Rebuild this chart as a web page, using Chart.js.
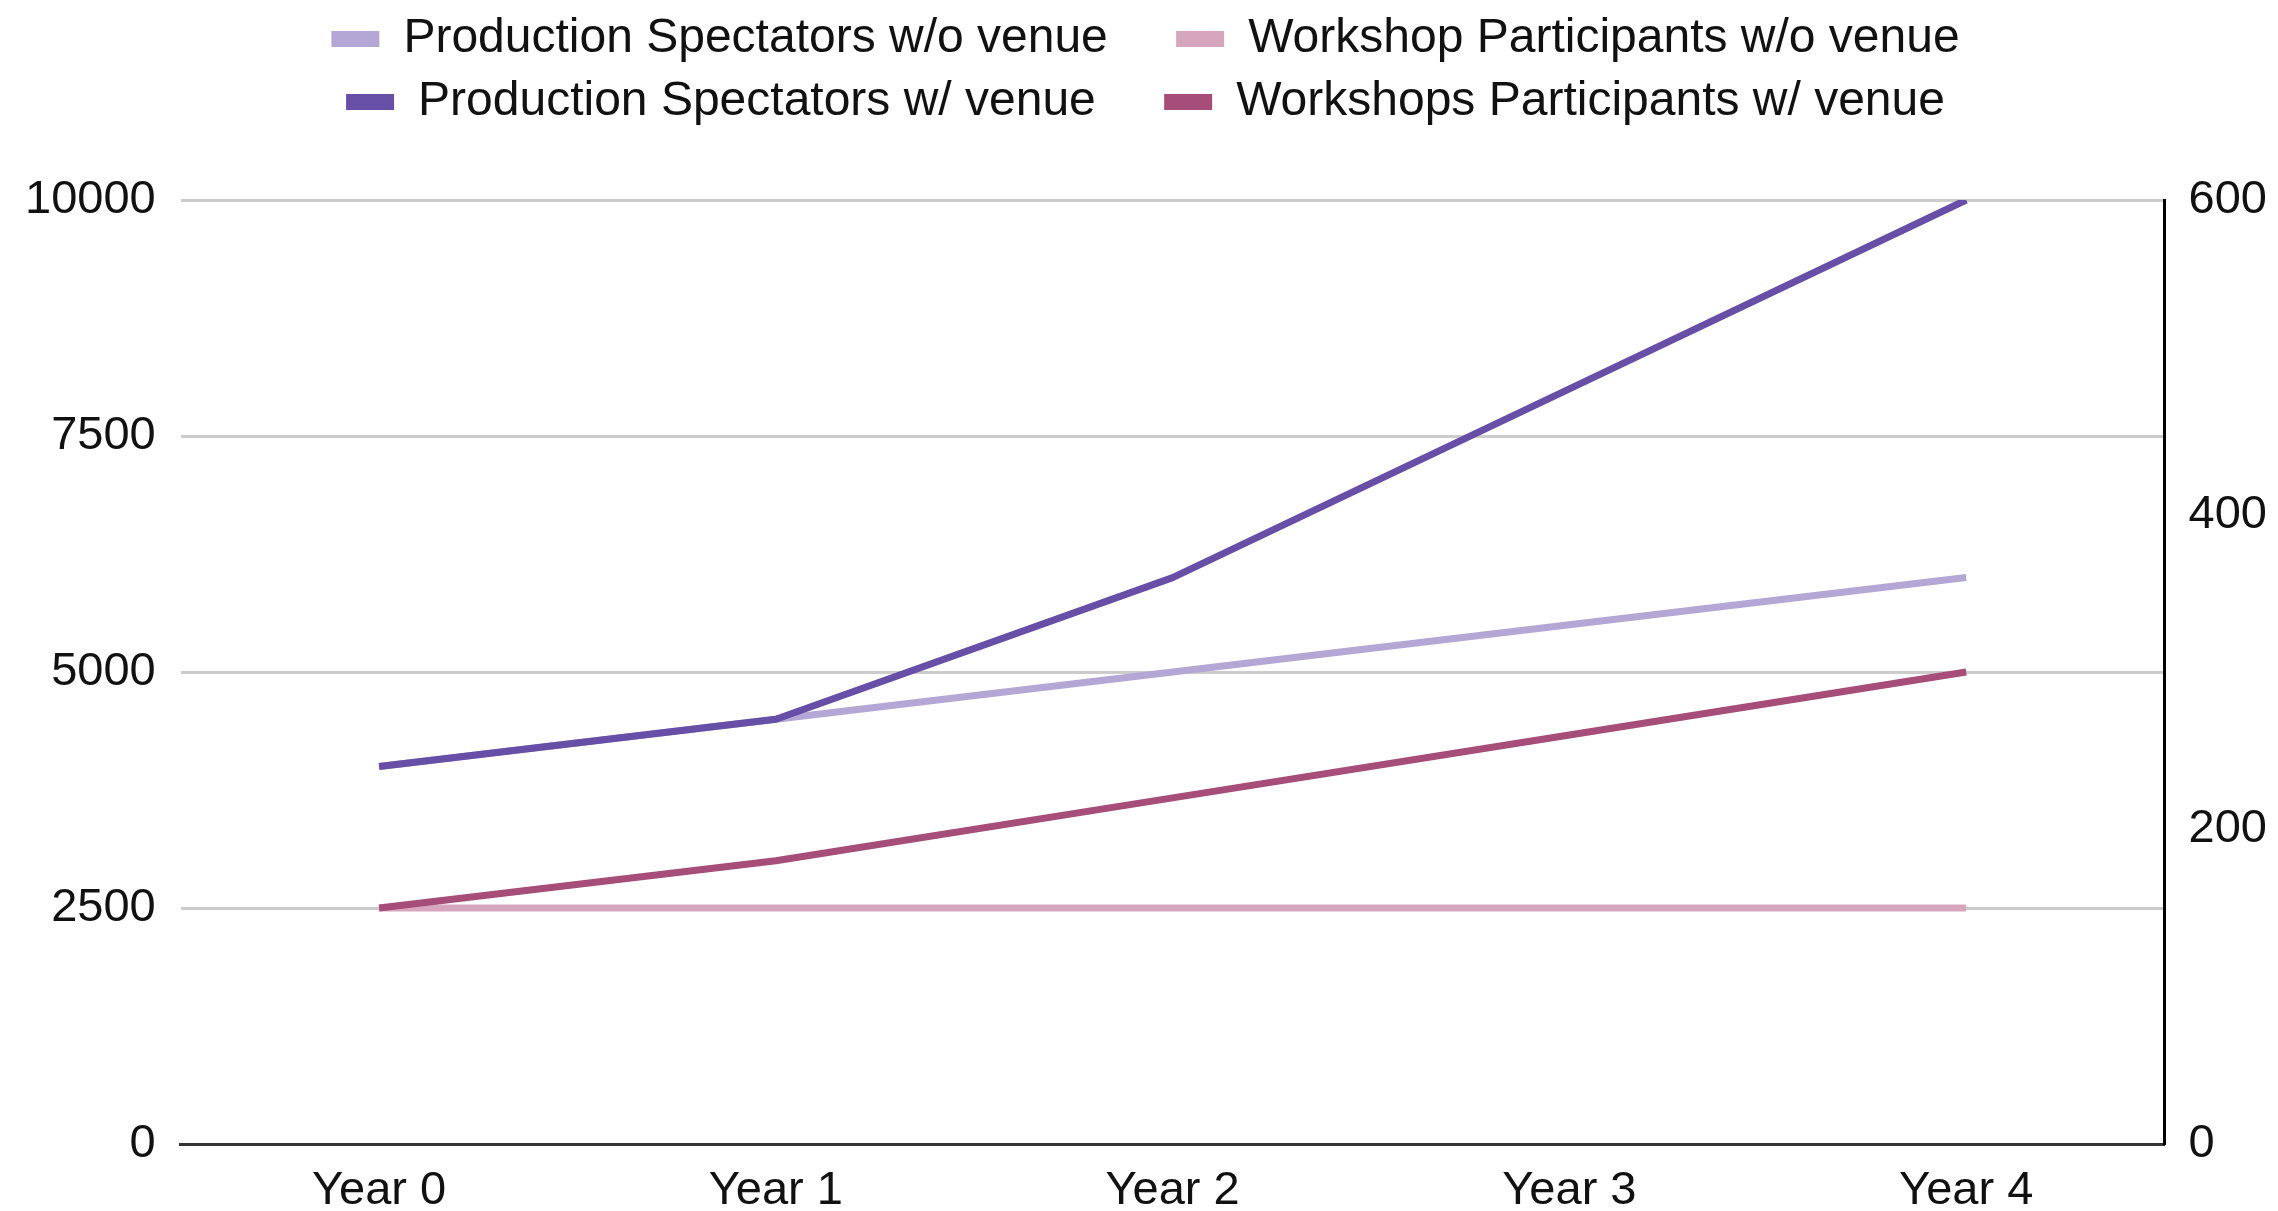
<!DOCTYPE html>
<html>
<head>
<meta charset="utf-8">
<title>Spectators and Participants</title>
<script src="https://cdn.jsdelivr.net/npm/chart.js@4"></script>
<style>
    html, body { margin: 0; padding: 0; background: #fff; }
    #wrap { width: 2278px; height: 1211px; position: relative; }
</style>
</head>
<body>
<div id="wrap"><canvas id="audienceChart"></canvas></div>
<script>
// Chart data
const years = ["Year 0", "Year 1", "Year 2", "Year 3", "Year 4"];
const spectatorsNoVenue = [4000, 4500, 5000, 5500, 6000];
const workshopNoVenue = [150, 150, 150, 150, 150];
const spectatorsVenue = [4000, 4500, 6000, 8000, 10000];
const workshopVenue = [150, 180, 220, 260, 300];
const leftTicks = [0, 2500, 5000, 7500, 10000];
const rightTicks = [0, 200, 400, 600];

const FONT = "'Liberation Sans', Arial, sans-serif";

document.addEventListener("DOMContentLoaded", function () {
    initAudienceChart();
});

function makeLine(label, data, color, axis, order) {
    return {
        label: label,
        data: data,
        yAxisID: axis,
        borderColor: color,
        backgroundColor: color,
        borderWidth: 7,
        borderJoinStyle: "round",
        pointRadius: 0,
        pointHoverRadius: 0,
        tension: 0,
        fill: false,
        order: order,
    };
}

// Extra room between legend and plot area
const legendGap = {
    id: "legendGap",
    beforeInit(chart) {
        const origFit = chart.legend.fit;
        chart.legend.fit = function () {
            origFit.bind(chart.legend)();
            this.height += 64;
        };
    },
};

function initAudienceChart() {
    const ctx = document.getElementById("audienceChart");
    if (!ctx) return;

    Chart.defaults.font.family = FONT;
    Chart.defaults.color = "#111";

    new Chart(ctx, {
        type: "line",
        data: {
            labels: years,
            datasets: [
                makeLine("Production Spectators w/o venue", spectatorsNoVenue, "#b4a7d6", "y", 1),
                makeLine("Workshop Participants w/o venue", workshopNoVenue, "#d5a6bd", "y1", 1),
                makeLine("Production Spectators w/ venue", spectatorsVenue, "#674ea7", "y", 0),
                makeLine("Workshops Participants w/ venue", workshopVenue, "#a64d79", "y1", 0),
            ],
        },
        options: {
            responsive: true,
            maintainAspectRatio: false,
            animation: false,
            layout: {
                padding: { top: 0, left: 0, right: -13, bottom: -28 },
            },
            scales: {
                x: {
                    offset: true,
                    grid: { display: false, drawTicks: false },
                    border: { display: true, color: "#333", width: 3 },
                    ticks: {
                        padding: 24,
                        font: { size: 47, lineHeight: 1 },
                        maxRotation: 0,
                    },
                },
                y: {
                    position: "left",
                    min: 0,
                    max: 10000,
                    afterBuildTicks: function (axis) {
                        axis.ticks = leftTicks.map((v) => ({ value: v }));
                    },
                    grid: {
                        color: "#cccccc",
                        lineWidth: 3,
                        drawTicks: false,
                    },
                    border: { display: false },
                    ticks: {
                        padding: 25,
                        font: { size: 47 },
                        callback: (value) => String(value),
                    },
                },
                y1: {
                    position: "right",
                    min: 0,
                    max: 600,
                    afterBuildTicks: function (axis) {
                        axis.ticks = rightTicks.map((v) => ({ value: v }));
                    },
                    grid: { display: false, drawTicks: false },
                    border: { display: true, color: "#000", width: 3 },
                    ticks: {
                        padding: 24,
                        font: { size: 47 },
                        callback: (value) => String(value),
                    },
                },
            },
            plugins: {
                legend: {
                    position: "top",
                    labels: {
                        boxWidth: 48,
                        boxHeight: 16,
                        padding: 15,
                        font: { size: 48 },
                        color: "#111",
                        sort: (a, b) => a.datasetIndex - b.datasetIndex,
                        generateLabels: function (chart) {
                            const items = Chart.defaults.plugins.legend.labels.generateLabels(chart);
                            items.forEach((item) => {
                                // plain flat swatch, no stroke round it
                                item.lineWidth = 0;
                                // first item of each row gets some trailing room
                                if (item.datasetIndex === 0 || item.datasetIndex === 2) {
                                    item.text = item.text + "    ";
                                }
                            });
                            return items;
                        },
                    },
                },
                tooltip: { enabled: false },
            },
        },
        plugins: [legendGap],
    });
}
</script>
</body>
</html>
